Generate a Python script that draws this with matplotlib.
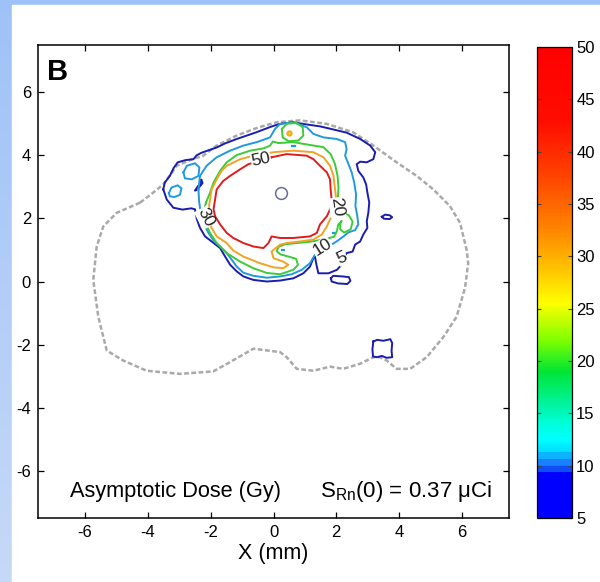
import numpy as np
import matplotlib
matplotlib.use('Agg')
import matplotlib.pyplot as plt
from matplotlib.colors import LinearSegmentedColormap, Normalize
from matplotlib.patches import Rectangle
import matplotlib.cm as cm

plt.rcParams['font.family'] = ['Liberation Sans', 'DejaVu Sans']
plt.rcParams['mathtext.fontset'] = 'custom'
plt.rcParams['mathtext.rm'] = 'Liberation Sans'

# isodose lines (x, y in mm)
iso50 = [(-0.06, 3.94), (0.42, 4.04), (1.06, 3.99), (1.27, 3.88), (1.48, 3.67), (1.70, 3.46),
         (1.80, 3.24), (1.82, 2.92), (1.85, 2.60), (1.80, 2.29), (1.70, 2.07), (1.48, 1.81),
         (1.38, 1.54), (1.16, 1.43), (0.63, 1.38), (0.21, 1.38), (-0.06, 1.43), (-0.16, 1.22),
         (-0.32, 1.06), (-0.64, 1.11), (-0.96, 1.22), (-1.28, 1.38), (-1.49, 1.54), (-1.70, 1.81),
         (-1.86, 2.07), (-1.91, 2.29), (-1.86, 2.60), (-1.81, 2.92), (-1.60, 3.19), (-1.38, 3.35),
         (-1.06, 3.56), (-0.80, 3.72), (-0.06, 3.94)]

iso30 = [(-2.07, 2.29), (-2.02, 2.60), (-1.97, 2.92), (-1.81, 3.24), (-1.65, 3.51), (-1.49, 3.67),
         (-1.06, 3.88), (-0.64, 3.99), (0.0, 4.10), (0.63, 4.15), (1.27, 4.10), (1.59, 3.94),
         (1.80, 3.67), (1.91, 3.35), (1.96, 2.92), (2.01, 2.50), (1.96, 2.18), (1.80, 1.97),
         (1.70, 1.75), (1.54, 1.49), (1.27, 1.33), (0.85, 1.27), (0.42, 1.22), (0.21, 1.17),
         (-0.06, 0.95), (0.0, 0.74), (0.31, 0.63), (0.47, 0.53), (0.31, 0.42), (0.0, 0.45),
         (-0.43, 0.58), (-0.96, 0.79), (-1.28, 0.98), (-1.49, 1.22), (-1.81, 1.43), (-1.97, 1.70),
         (-2.12, 2.00), (-2.07, 2.29)]
iso30_spot = (0.48, 4.70)

iso20 = [(-2.15, 2.50), (-2.02, 2.82), (-1.91, 3.14), (-1.70, 3.51), (-1.49, 3.78), (-1.17, 4.01),
         (-0.74, 4.15), (-0.32, 4.22), (-0.11, 4.31), (-0.02, 4.44), (0.16, 4.39), (0.63, 4.42),
         (1.16, 4.33), (1.59, 4.26), (1.82, 4.04), (1.96, 3.72), (2.04, 3.35), (2.07, 2.98),
         (2.05, 2.65), (2.10, 2.35), (2.17, 2.20), (2.40, 2.10), (2.52, 1.90), (2.46, 1.66),
         (2.25, 1.55), (2.12, 1.66), (2.13, 1.85), (2.17, 1.92), (2.06, 1.80), (2.02, 1.60),
         (1.93, 1.42), (1.59, 1.33), (1.16, 1.26), (0.74, 1.22), (0.37, 1.18), (0.16, 1.10),
         (0.10, 0.96), (0.22, 0.86), (0.48, 0.79), (0.72, 0.72), (0.78, 0.53), (0.63, 0.37),
         (0.21, 0.23), (-0.21, 0.27), (-0.64, 0.42), (-1.06, 0.63), (-1.49, 0.90), (-1.81, 1.22),
         (-2.02, 1.54), (-2.18, 1.86), (-2.23, 2.18), (-2.15, 2.50)]
iso20_top = [(0.27, 4.84), (0.42, 5.00), (0.74, 5.03), (0.93, 4.89), (0.95, 4.63), (0.79, 4.47),
             (0.48, 4.45), (0.29, 4.57), (0.27, 4.84)]

iso10 = [(-2.39, 2.92), (-2.34, 3.35), (-2.13, 3.67), (-1.81, 3.94), (-1.38, 4.15), (-0.96, 4.31),
         (-0.53, 4.42), (-0.11, 4.57), (0.05, 4.84), (0.21, 5.00), (0.63, 5.05), (1.06, 4.89),
         (1.27, 4.68), (1.59, 4.57), (2.01, 4.52), (2.28, 4.42), (2.33, 4.20), (2.28, 3.99),
         (2.39, 3.72), (2.49, 3.46), (2.57, 3.14), (2.63, 2.76), (2.61, 2.39), (2.67, 2.07),
         (2.70, 1.81), (2.60, 1.63), (2.39, 1.56), (2.23, 1.43), (2.01, 1.27), (1.80, 1.14),
         (1.55, 1.00), (1.32, 0.85), (1.16, 0.58), (0.90, 0.37), (0.58, 0.23), (0.21, 0.16),
         (-0.21, 0.12), (-0.64, 0.18), (-0.96, 0.28), (-1.17, 0.47), (-1.33, 0.69), (-1.49, 0.90),
         (-1.70, 1.11), (-1.91, 1.30), (-2.07, 1.54), (-2.21, 1.81), (-2.32, 2.18), (-2.37, 2.55),
         (-2.39, 2.92)]
iso10_isle1 = [(-2.87, 3.46), (-2.76, 3.67), (-2.50, 3.75), (-2.36, 3.62), (-2.39, 3.35),
               (-2.60, 3.24), (-2.82, 3.27), (-2.87, 3.46)]
iso10_isle2 = [(-3.33, 2.80), (-3.25, 2.98), (-3.05, 3.05), (-2.93, 2.95), (-2.98, 2.75),
               (-3.15, 2.68), (-3.30, 2.70), (-3.33, 2.80)]
iso10_specks = [(0.63, 4.31), (1.93, 1.54), (0.30, 1.00)]

iso5 = [(-3.51, 2.92), (-3.46, 3.14), (-3.30, 3.35), (-3.18, 3.60), (-3.05, 3.78), (-2.80, 3.85),
        (-2.55, 3.88), (-2.45, 4.00), (-2.30, 4.08), (-2.10, 4.15), (-1.81, 4.25), (-1.54, 4.38),
        (-1.17, 4.52), (-0.58, 4.72), (-0.05, 4.92), (0.21, 5.00), (0.63, 5.05), (1.06, 4.98),
        (1.48, 4.92), (1.91, 4.82), (2.33, 4.72), (2.76, 4.52), (3.08, 4.31), (3.24, 4.10),
        (3.18, 3.88), (2.97, 3.78), (2.76, 3.80), (2.65, 3.72), (2.70, 3.51), (2.86, 3.30),
        (2.95, 3.08), (2.99, 2.82), (3.05, 2.50), (3.02, 2.18), (2.97, 1.91), (2.99, 1.70),
        (2.86, 1.49), (2.76, 1.27), (2.60, 1.17), (2.52, 0.95), (2.33, 0.90), (2.23, 0.74),
        (2.17, 0.53), (2.02, 0.37), (1.75, 0.26), (1.43, 0.26), (1.38, 0.47), (1.32, 0.79),
        (1.27, 0.74), (1.16, 0.47), (0.95, 0.26), (0.63, 0.10), (0.21, 0.03), (-0.21, 0.0),
        (-0.64, 0.05), (-0.96, 0.16), (-1.17, 0.32), (-1.38, 0.53), (-1.54, 0.79), (-1.70, 1.06),
        (-1.97, 1.27), (-2.18, 1.43), (-2.34, 1.70), (-2.44, 1.97), (-2.50, 2.29), (-2.62, 2.32),
        (-2.90, 2.28), (-3.19, 2.34), (-3.40, 2.60), (-3.51, 2.92)]
iso5_isle_blob = [(1.83, 0.10), (1.90, 0.18), (2.20, 0.16), (2.40, 0.14), (2.45, 0.02),
                  (2.35, -0.08), (2.05, -0.06), (1.85, 0.0), (1.83, 0.10)]
iso5_isle_dot = [(3.45, 2.05), (3.55, 2.12), (3.70, 2.10), (3.78, 2.04), (3.70, 1.98),
                 (3.52, 1.99), (3.45, 2.05)]
iso5_isle_box = [(3.18, -1.90), (3.30, -1.85), (3.50, -1.88), (3.72, -1.83), (3.78, -1.95),
                 (3.76, -2.20), (3.78, -2.40), (3.60, -2.42), (3.45, -2.36), (3.30, -2.40),
                 (3.17, -2.38), (3.15, -2.15), (3.18, -1.90)]
iso5_isle_dash = [(-2.30, 3.22), (-2.26, 3.12), (-2.40, 2.95), (-2.50, 2.88), (-2.45, 2.96),
                  (-2.36, 3.08), (-2.30, 3.22)]

# brain outline (dashed)
outline = [(-4.25, 2.50), (-3.83, 2.82), (-3.51, 3.08), (-3.08, 3.67), (-2.66, 3.85), (-2.24, 3.99),
           (-1.81, 4.31), (-1.17, 4.63), (-0.50, 4.88), (0.10, 5.05), (0.84, 5.11), (1.69, 5.00),
           (2.54, 4.73), (3.18, 4.31), (3.92, 3.78), (4.56, 3.35), (5.09, 2.92), (5.62, 2.39),
           (5.94, 1.86), (6.15, 1.01), (6.20, 0.58), (6.10, -0.20), (5.83, -1.12), (5.41, -1.76),
           (4.88, -2.40), (4.35, -2.77), (3.92, -2.77), (3.61, -2.51), (3.39, -2.40), (3.18, -2.40),
           (2.75, -2.61), (2.22, -2.77), (1.80, -2.70), (1.27, -2.83), (0.74, -2.77), (0.42, -2.40),
           (0.21, -2.24), (-0.64, -2.13), (-1.39, -2.56), (-1.92, -2.85), (-2.98, -2.93),
           (-4.04, -2.83), (-4.78, -2.51), (-5.31, -2.19), (-5.42, -1.76), (-5.58, -1.12),
           (-5.74, 0.05), (-5.63, 1.11), (-5.42, 1.75), (-4.99, 2.18), (-4.25, 2.50)]

seed = (0.24, 2.82)

label_text = ['50', '30', '20', '10', '5']
label_x = [-0.40, -2.17, 2.03, 1.55, 2.17]
label_y = [3.86, 2.03, 2.35, 1.08, 0.76]
label_rot = [12, -62, -82, 32, 25]

ticks_xy = [-6, -4, -2, 0, 2, 4, 6]
cbar_ticks = [5, 10, 15, 20, 25, 30, 35, 40, 45, 50]
cmap_vals = [5, 9.3, 9.35, 9.9, 9.95, 10.6, 10.65, 11.3, 11.35, 12.5, 14, 16, 19, 22, 25.5,
             29, 33, 38, 43, 50]
cmap_cols = [(0, 0, 1), (0, 0, 1), (0.05, 0.3, 0.95), (0.05, 0.3, 0.95), (0.1, 0.5, 1),
             (0.1, 0.5, 1), (0.05, 0.7, 1), (0.05, 0.7, 1), (0, 0.88, 1),
             (0, 1, 1), (0, 1, 0.85), (0, 0.95, 0.6), (0, 0.9, 0.2), (0.5, 1, 0),
             (1, 1, 0), (1, 0.75, 0), (1, 0.5, 0), (1, 0.25, 0), (1, 0.05, 0), (1, 0, 0)]

c5, c10, c20, c30, c50 = '#1c1cae', '#2199de', '#3ccc35', '#f2a324', '#e01c1c'

fig = plt.figure(figsize=(6, 5.82), dpi=100)

# slide background
bg = fig.add_axes([0, 0, 1, 1], zorder=-10)
grad = np.linspace(0, 1, 256)[:, None, None]
top_c = np.array([0.62, 0.76, 0.97])
bot_c = np.array([0.78, 0.85, 0.97])
bg.imshow(top_c * (1 - grad) + bot_c * grad, extent=[0, 1, 0, 1], aspect='auto')
bg.add_patch(Rectangle((12 / 600, 0), 1, 1 - 5 / 582, color='white'))
bg.set_xlim(0, 1)
bg.set_ylim(0, 1)
bg.axis('off')

ax = fig.add_axes([38 / 600, 64 / 582, 471 / 600, 473 / 582])


def draw(path, color, lw=1.4, **kw):
    p = np.array(path)
    ax.plot(p[:, 0], p[:, 1], color=color, lw=lw, solid_joinstyle='round', **kw)


o = np.array(outline)
ax.plot(o[:, 0], o[:, 1], color='#a9a9a9', lw=1.8, dashes=(1.9, 1.0))

for path in [iso5, iso5_isle_blob, iso5_isle_dot, iso5_isle_box, iso5_isle_dash]:
    draw(path, c5)
for path in [iso10, iso10_isle1, iso10_isle2]:
    draw(path, c10)
for sx, sy in iso10_specks:
    ax.plot([sx - 0.04, sx + 0.04], [sy, sy], color=c10, lw=1.6)
draw(iso20, c20)
draw(iso20_top, c20)
draw(iso30, c30)
ax.plot(*iso30_spot, 'o', ms=3.5, mfc='#f5c020', mec=c30, mew=1)
draw(iso50, c50)
ax.plot(*seed, 'o', ms=8.5, mfc='none', mec='#6a6aa0', mew=1.1)

for t, lx, ly, r in zip(label_text, label_x, label_y, label_rot):
    ax.text(lx, ly, t, fontsize=12.5, rotation=r, ha='center', va='center', color='#222222',
            bbox=dict(facecolor='white', edgecolor='none', pad=0.3), zorder=5)

ax.text(-7.2, 6.65, 'B', fontsize=21, fontweight='bold', ha='left', va='center')
ax.text(-6.48, -6.82, 'Asymptotic Dose (Gy)', fontsize=15.7, ha='left', va='baseline')
ax.text(1.48, -6.82, r'S$_{\mathrm{Rn}}$(0) = 0.37 μCi', fontsize=16, ha='left', va='baseline')

ax.set_xlim(-7.5, 7.5)
ax.set_ylim(-7.5, 7.5)
ax.set_xticks(ticks_xy)
ax.set_yticks(ticks_xy)
ax.set_xticklabels([str(v) for v in ticks_xy])
ax.set_yticklabels([str(v) for v in ticks_xy])
ax.tick_params(direction='in', length=4, width=0.9, top=True, right=True, labelsize=12, pad=5)
for s in ax.spines.values():
    s.set_linewidth(1.1)
ax.set_xlabel('X (mm)', fontsize=15.5, labelpad=2)

cmap = LinearSegmentedColormap.from_list(
    'dose', [((v - 5) / 45, c) for v, c in zip(cmap_vals, cmap_cols)], N=256)
cax = fig.add_axes([537 / 600, 64 / 582, 35 / 600, 471 / 582])
sm = cm.ScalarMappable(norm=Normalize(5, 50), cmap=cmap)
cb = fig.colorbar(sm, cax=cax, ticks=cbar_ticks)
cb.ax.tick_params(direction='in', length=3, width=0.8, left=True, right=True,
                  labelsize=12, pad=3, color='#444444')
cb.outline.set_linewidth(0.9)

fig.savefig('out.png', dpi=100)
